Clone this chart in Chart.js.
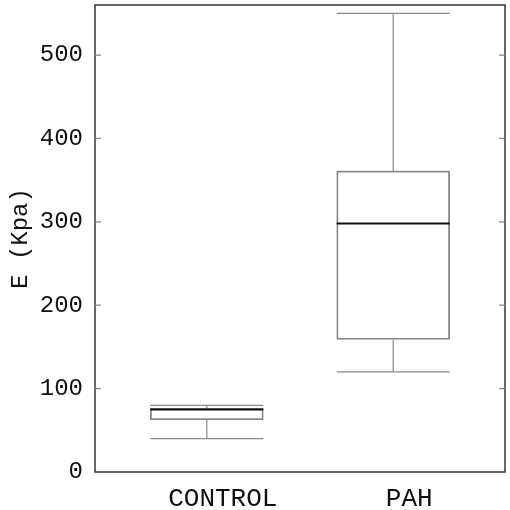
<!DOCTYPE html>
<html>
<head>
<meta charset="utf-8">
<script src="https://cdn.jsdelivr.net/npm/chart.js@4"></script>
<style>
html,body{margin:0;padding:0;background:#fff;}
#wrap{width:510px;height:510px;}
</style>
</head>
<body>
<div id="wrap"><canvas id="c" width="510" height="510"></canvas></div>
<script>
const categories = ['CONTROL', 'PAH'];
const positions = [1, 2];
const minVals = [40, 120];
const q1Vals = [62.5, 159];
const medianVals = [75, 298];
const q3Vals = [76.5, 361];
const maxVals = [80, 550];
const yTicks = [0, 100, 200, 300, 400, 500];

const FONT = "'Liberation Mono', 'DejaVu Sans Mono', monospace";
const BOX_COLOR = '#8a8a8a';

const boxPlugin = {
  id: 'boxPlugin',
  afterDatasetsDraw(chart) {
    const ctx = chart.ctx;
    const xs = chart.scales.x, ys = chart.scales.y;
    const meta = chart.getDatasetMeta(0);
    ctx.save();
    meta.data.forEach((bar, i) => {
      const cx = xs.getPixelForValue(positions[i]);
      const half = bar.width / 2;
      const yMin = ys.getPixelForValue(minVals[i]);
      const yMax = ys.getPixelForValue(maxVals[i]);
      const yQ1 = ys.getPixelForValue(q1Vals[i]);
      const yQ3 = ys.getPixelForValue(q3Vals[i]);
      const yMed = ys.getPixelForValue(medianVals[i]);
      ctx.strokeStyle = BOX_COLOR;
      ctx.lineWidth = 1.2;
      ctx.beginPath();
      ctx.moveTo(cx, yQ3); ctx.lineTo(cx, yMax);
      ctx.moveTo(cx, yQ1); ctx.lineTo(cx, yMin);
      ctx.moveTo(cx - half, yMax); ctx.lineTo(cx + half, yMax);
      ctx.moveTo(cx - half, yMin); ctx.lineTo(cx + half, yMin);
      ctx.stroke();
      ctx.strokeStyle = '#111';
      ctx.lineWidth = 2;
      ctx.beginPath();
      ctx.moveTo(cx - half, yMed); ctx.lineTo(cx + half, yMed);
      ctx.stroke();
    });
    const a = chart.chartArea;
    ctx.strokeStyle = '#333';
    ctx.lineWidth = 1.5;
    ctx.strokeRect(a.left, a.top, a.right - a.left, a.bottom - a.top);
    ctx.strokeStyle = '#888';
    ctx.lineWidth = 1.2;
    ctx.beginPath();
    yTicks.forEach(v => {
      if (v === 0) return;
      const y = ys.getPixelForValue(v);
      ctx.moveTo(a.left, y); ctx.lineTo(a.left + 6, y);
      ctx.moveTo(a.right, y); ctx.lineTo(a.right - 6, y);
    });
    ctx.stroke();
    ctx.restore();
  }
};

new Chart(document.getElementById('c'), {
  type: 'bar',
  data: {
    datasets: [{
      data: positions.map((p, i) => ({ x: p, y: [q1Vals[i], q3Vals[i]] })),
      backgroundColor: 'rgba(255,255,255,0)',
      borderColor: BOX_COLOR,
      borderWidth: 1.2,
      borderSkipped: false,
      barThickness: 113
    }]
  },
  options: {
    responsive: false,
    animation: false,
    layout: { padding: { top: 5, right: 5, left: 0, bottom: 0 } },
    plugins: { legend: { display: false }, tooltip: { enabled: false } },
    scales: {
      x: {
        type: 'linear',
        offset: false,
        min: 0.4,
        max: 2.6,
        afterBuildTicks(scale) { scale.ticks = positions.map(v => ({ value: v })); },
        afterFit(scale) { scale.height = 38; scale.paddingLeft = 0; scale.paddingRight = 0; },
        grid: { display: false, drawTicks: false },
        border: { display: false },
        ticks: {
          callback(v) { const i = positions.indexOf(v); return i >= 0 ? categories[i] : ''; },
          font: { family: FONT, size: 26 },
          color: '#111',
          padding: 12,
          labelOffset: 16,
          maxRotation: 0,
          autoSkip: false
        }
      },
      y: {
        min: 0,
        max: 560,
        afterBuildTicks(scale) { scale.ticks = yTicks.map(v => ({ value: v })); },
        afterFit(scale) { scale.width = 95; scale.paddingTop = 0; scale.paddingBottom = 0; },
        grid: { display: false, drawTicks: false },
        border: { display: false },
        title: {
          display: true,
          text: 'E (Kpa)',
          font: { family: FONT, size: 24 },
          color: '#111',
          padding: { top: 6, bottom: 0 }
        },
        ticks: {
          font: { family: FONT, size: 24 },
          color: '#111',
          padding: 12
        }
      }
    }
  },
  plugins: [boxPlugin]
});
</script>
</body>
</html>
